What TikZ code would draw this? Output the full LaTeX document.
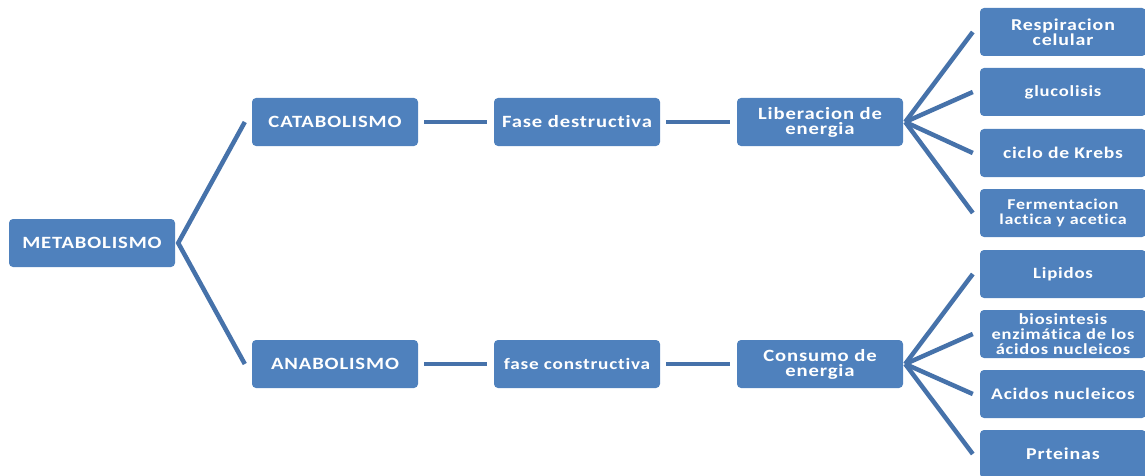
\documentclass[tikz,border=0pt]{standalone}
\usepackage{fontspec}
\newfontfamily\boxfont[FakeStretch=1.2,LetterSpace=5,RawFeature=-liga]{Carlito}
\definecolor{boxblue}{HTML}{4F81BD}
\definecolor{linkblue}{HTML}{4672AA}
\begin{document}
\begin{tikzpicture}[x=1pt,y=-1pt,
  box/.style={fill=boxblue, rounded corners=4pt, minimum width=166pt, minimum height=48pt,
    inner sep=1pt, text=white, align=center, tsize={17.2pt}{15pt}},
  tsize/.style 2 args={font=\boxfont\bfseries\fontsize{#1}{#2}\selectfont},
  link/.style={draw=linkblue, line width=4.5pt, line cap=butt, line join=miter}]
\useasboundingbox (0,0) rectangle (1145,476);

% main chain
\node[box] (meta) at (92,243) {METABOLISMO};
\node[box] (cat)  at (335,122) {CATABOLISMO};
\node[box] (fd)   at (577,122) {Fase destructiva};
\node[box] (lib)  at (820,122) {Liberacion de\\energia};
\node[box] (ana)  at (335,364) {ANABOLISMO};
\node[box, tsize={16pt}{15pt}] (fc) at (577,364) {fase constructiva};
\node[box] (con)  at (820,364) {Consumo de\\energia};

% catabolic outcomes
\node[box, tsize={16.6pt}{14.5pt}] (resp)  at (1063,32)  {Respiracion\\celular};
\node[box, tsize={15.5pt}{14.5pt}] (glu)   at (1063,92)  {glucolisis};
\node[box, tsize={16.3pt}{14.5pt}] (krebs) at (1063,153) {ciclo de Krebs};
\node[box, tsize={15pt}{14.5pt}]   (ferm)  at (1063,213) {Fermentacion\\lactica y acetica};

% anabolic outcomes
\node[box, tsize={15.7pt}{14.5pt}] (lip)  at (1063,274) {Lipidos};
\node[box, inner sep=0pt, tsize={15.4pt}{14.8pt}] (bios) at (1063,334) {biosintesis\\enzimática de los\\ácidos nucleicos};
\node[box, tsize={16.2pt}{14.5pt}] (acid) at (1063,394) {Acidos nucleicos};
\node[box, tsize={16.6pt}{14.5pt}] (prt)  at (1063,454) {Prteinas};

% bracket from the root
\coordinate (mroot) at ([xshift=3pt]meta.east);
\draw[link] ([xshift=-7pt]cat.west) -- (mroot) -- ([xshift=-7pt]ana.west);

% straight links
\draw[link] ([xshift=6pt]cat.east) -- ([xshift=-7pt]fd.west);
\draw[link] ([xshift=6pt]fd.east) -- ([xshift=-7pt]lib.west);
\draw[link] ([xshift=6pt]ana.east) -- ([xshift=-7pt]fc.west);
\draw[link] ([xshift=6pt]fc.east) -- ([xshift=-7pt]con.west);

% fans
\coordinate (lroot) at ([xshift=2pt]lib.east);
\coordinate (croot) at ([xshift=2pt]con.east);
\foreach \t in {resp,glu,krebs,ferm}
  \draw[link] (lroot) -- ([xshift=-7pt]\t.west);
\foreach \t in {lip,bios,acid,prt}
  \draw[link] (croot) -- ([xshift=-7pt]\t.west);
\end{tikzpicture}
\end{document}
